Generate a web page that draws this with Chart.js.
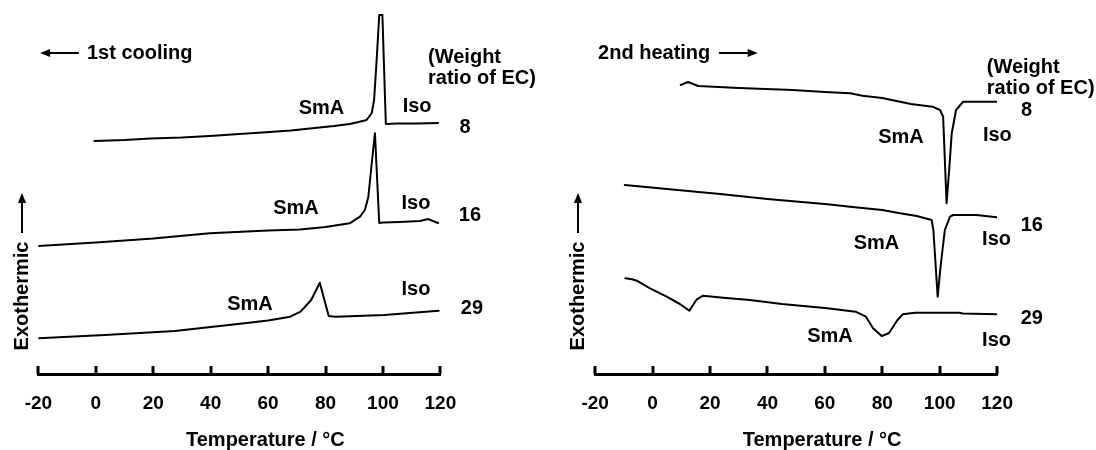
<!DOCTYPE html>
<html><head><meta charset="utf-8">
<script src="https://cdn.jsdelivr.net/npm/chart.js@4.4.1/dist/chart.umd.min.js"></script>
<style>
html,body{margin:0;padding:0;background:#fff;}
#wrap{position:relative;width:1096px;height:450px;overflow:hidden;background:#fff;}
canvas{position:absolute;top:0;}
</style></head><body>
<div id="wrap"><canvas id="c1" width="548" height="450" style="left:0"></canvas><canvas id="c2" width="548" height="450" style="left:548px"></canvas></div>
<script>
// ---- tick labels ----
const xTicks = [-20, 0, 20, 40, 60, 80, 100, 120];

// ---- 1st cooling (left) ----
const cool8T = [-0.5, 10, 19, 30, 39.7, 50, 58, 68, 76.2, 83, 88.4, 91.5, 94.3, 96.1, 96.9, 97.8, 98.7, 99.8, 101, 105, 112, 119.2];
const cool8Y = [233, 234, 235.5, 236.5, 238, 240, 241.5, 243.5, 246, 248, 250, 252, 254, 261, 274, 314, 359, 359, 250, 250.5, 250.5, 251];
const cool16T = [-20, 0, 20, 39.7, 60, 71.1, 80, 88.4, 92, 93.7, 94.9, 96.1, 97.2, 98.7, 100, 105.9, 112.9, 115.7, 117.4, 119.2];
const cool16Y = [128, 131.5, 135.5, 140.7, 143.5, 144.5, 147, 150.7, 157.3, 164, 177, 211, 240.7, 151, 151.5, 152, 153, 155, 153, 151];
const cool29T = [-20, 3.2, 27.5, 51.8, 60, 67.7, 71.3, 75, 78, 81.1, 83.5, 100.5, 119.4];
const cool29Y = [35.7, 39, 43, 50.7, 53.5, 57.3, 62.3, 74, 91.3, 58, 57.3, 59, 63.3];

// ---- 2nd heating (right) ----
const heat8T = [9.8, 12.3, 15.9, 30, 48.8, 60, 68.75, 73.1, 80, 86.2, 90, 97.5, 100.1, 101.2, 102.4, 103.3, 104.2, 105.7, 108.2, 112, 119.8];
const heat8Y = [289, 292, 288, 286, 284, 282, 280.7, 278.3, 276, 272.3, 270, 267.3, 264, 257.3, 170.7, 204, 240.7, 264, 272.3, 272.3, 272.3];
const heat16T = [-9.7, 5, 24.4, 40, 60.9, 68.75, 80, 86.2, 92, 97.2, 97.8, 99.3, 100.3, 101.8, 103.6, 104.7, 112.8, 119.8];
const heat16Y = [189, 185, 179.7, 175, 169.7, 167.3, 164, 160.7, 158, 154, 144, 77.3, 107.3, 144, 157.3, 159, 159, 156.7];
const heat29T = [-9.5, -7.2, -5.5, -0.9, 4.9, 9.5, 12.8, 15.4, 17.6, 24.6, 33.9, 45, 60.9, 70.7, 74.3, 76.8, 79.8, 82.3, 85.3, 87.1, 91.4, 107, 108, 120];
const heat29Y = [95.7, 94.7, 93.3, 85.7, 77.3, 70, 63.3, 74.7, 78.3, 76.3, 74, 70, 65.7, 62.3, 57.3, 45.7, 38, 40.7, 54, 59.7, 61.3, 61.3, 60.5, 59.7];

// ---- annotation texts ----
const curveLabels = ['SmA', 'Iso', '8', 'SmA', 'Iso', '16', 'SmA', 'Iso', '29'];
const coolLabelT = [78.6, 111.9, 128.6, 69.7, 111.5, 130.3, 53.7, 111.5, 131];
const coolLabelY = [266, 268, 247, 166, 171, 159, 70, 85, 66];
const heatLabelT = [86.5, 120.1, 130.3, 78.0, 119.8, 132.1, 61.8, 119.8, 132.1];
const heatLabelY = [237, 239, 264, 130.7, 134.7, 149, 38, 34, 56];
const ratioLines = ['(Weight', 'ratio of EC)'];
const coolRatioT = 115.7, coolRatioY = [317, 296];
const heatRatioT = 116.4, heatRatioY = [307, 286];
const xTitle = 'Temperature / °C';
const yTitle = 'Exothermic';

const FAM = '"Liberation Sans", Arial, Helvetica, sans-serif';

function arrow(ctx, x0, y0, x1, y1) {
  const ang = Math.atan2(y1 - y0, x1 - x0);
  const hl = 10, hw = 4;
  ctx.beginPath();
  ctx.moveTo(x0, y0);
  ctx.lineTo(x1 - Math.cos(ang) * hl * 0.6, y1 - Math.sin(ang) * hl * 0.6);
  ctx.lineWidth = 2; ctx.strokeStyle = '#000'; ctx.stroke();
  ctx.beginPath();
  ctx.moveTo(x1, y1);
  ctx.lineTo(x1 - Math.cos(ang) * hl - Math.sin(ang) * hw, y1 - Math.sin(ang) * hl + Math.cos(ang) * hw);
  ctx.lineTo(x1 - Math.cos(ang) * hl + Math.sin(ang) * hw, y1 - Math.sin(ang) * hl - Math.cos(ang) * hw);
  ctx.closePath(); ctx.fillStyle = '#000'; ctx.fill();
}

function annPlugin(cfg) {
  return {
    id: 'ann',
    afterDraw(chart) {
      const ctx = chart.ctx, xs = chart.scales.x, ys = chart.scales.y, area = chart.chartArea;
      ctx.save();
      ctx.fillStyle = '#000'; ctx.strokeStyle = '#000';
      // upward tick marks
      ctx.lineWidth = 3;
      xTicks.forEach(v => {
        const px = Math.round(xs.getPixelForValue(v));
        ctx.beginPath(); ctx.moveTo(px, area.bottom); ctx.lineTo(px, area.bottom - 8); ctx.stroke();
      });
      // curve labels
      ctx.font = 'bold 20px ' + FAM;
      ctx.textAlign = 'center'; ctx.textBaseline = 'middle';
      cfg.labels.forEach((t, i) => {
        ctx.fillText(t, xs.getPixelForValue(cfg.lT[i]), ys.getPixelForValue(cfg.lY[i]));
      });
      // weight ratio header
      ctx.textAlign = 'left';
      ratioLines.forEach((t, i) => {
        ctx.fillText(t, xs.getPixelForValue(cfg.rT), ys.getPixelForValue(cfg.rY[i]));
      });
      // process header with arrow
      ctx.fillText(cfg.head, xs.getPixelForValue(cfg.headT), ys.getPixelForValue(cfg.headY));
      const ay = ys.getPixelForValue(cfg.headY);
      arrow(ctx, xs.getPixelForValue(cfg.arT0), ay, xs.getPixelForValue(cfg.arT1), ay);
      // x title
      ctx.textAlign = 'center';
      ctx.fillText(xTitle, (area.left + area.right) / 2 + 26, 440);
      // y title rotated + arrow
      ctx.save();
      ctx.translate(cfg.exoX, 296);
      ctx.rotate(-Math.PI / 2);
      ctx.fillText(yTitle, 0, 0);
      ctx.restore();
      arrow(ctx, cfg.exoX, 233, cfg.exoX, 193);
      ctx.restore();
    }
  };
}

function ds(T, Y) {
  return { data: T.map((t, i) => ({ x: t, y: Y[i] })), borderColor: '#000', borderWidth: 2,
           pointRadius: 0, tension: 0, fill: false, borderJoinStyle: 'round', borderCapStyle: 'round' };
}

function makeChart(id, sets, padL, padR, cfg) {
  return new Chart(document.getElementById(id), {
    type: 'line',
    data: { datasets: sets },
    options: {
      responsive: false, animation: false, devicePixelRatio: 1,
      layout: { padding: { left: padL, right: padR, top: 0, bottom: 0 } },
      plugins: { legend: { display: false }, tooltip: { enabled: false } },
      scales: {
        x: {
          type: 'linear', min: -20, max: 120,
          afterBuildTicks: s => { s.ticks = xTicks.map(v => ({ value: v })); },
          grid: { display: false, drawTicks: false },
          border: { display: true, color: '#000', width: 3 },
          ticks: { color: '#000', font: { family: FAM, size: 19, weight: 'bold' }, padding: 18,
                   maxRotation: 0, autoSkip: false, callback: v => String(v) },
          afterFit: s => { s.height = 76; }
        },
        y: { display: false, min: 0, max: 374 }
      }
    },
    plugins: [annPlugin(cfg)]
  });
}

makeChart('c1', [ds(cool8T, cool8Y), ds(cool16T, cool16Y), ds(cool29T, cool29Y)], 38.4, 107.6, {
  labels: curveLabels, lT: coolLabelT, lY: coolLabelY, rT: coolRatioT, rY: coolRatioY,
  head: '1st cooling', headT: -3.1, headY: 321, arT0: -5.9, arT1: -19.4, exoX: 22
});
makeChart('c2', [ds(heat8T, heat8Y), ds(heat16T, heat16Y), ds(heat29T, heat29Y)], 47.2, 98.9, {
  labels: curveLabels, lT: heatLabelT, lY: heatLabelY, rT: heatRatioT, rY: heatRatioY,
  head: '2nd heating', headT: -19, headY: 321, arT0: 23.1, arT1: 36.6, exoX: 30
});
</script>
</body></html>
